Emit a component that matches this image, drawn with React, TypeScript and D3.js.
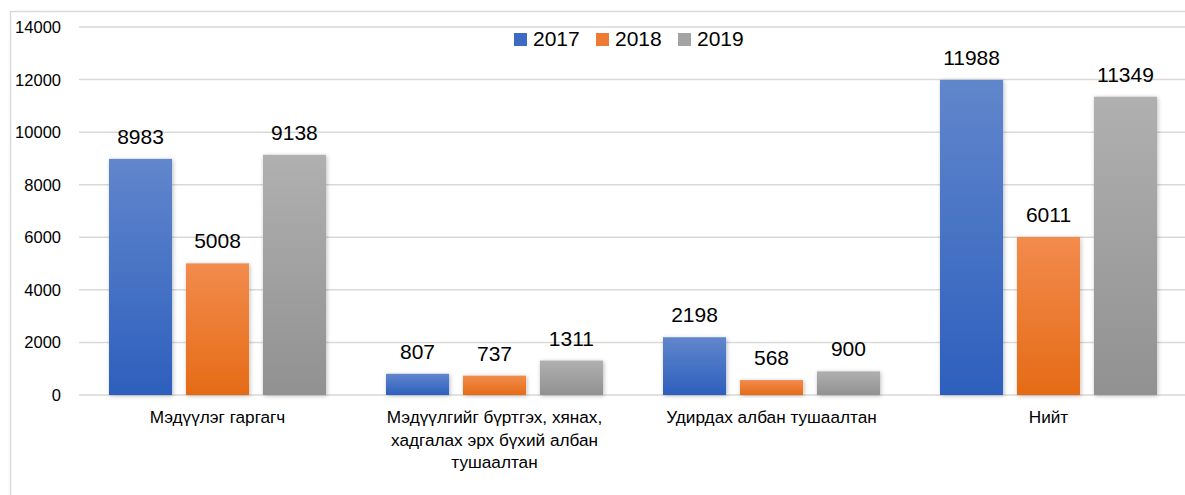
import { useMemo } from "react";
import * as d3 from "d3";

const categories = [
  ["Мэдүүлэг гаргагч"],
  ["Мэдүүлгийг бүртгэх, хянах,", "хадгалах эрх бүхий албан", "тушаалтан"],
  ["Удирдах албан тушаалтан"],
  ["Нийт"],
];
const years = ["2017", "2018", "2019"];
const values2017 = [8983, 807, 2198, 11988];
const values2018 = [5008, 737, 568, 6011];
const values2019 = [9138, 1311, 900, 11349];
const yTicks = [0, 2000, 4000, 6000, 8000, 10000, 12000, 14000];

const series = [values2017, values2018, values2019];
const gradients = [
  ["#6186cc", "#2d5fbd"],
  ["#f28b4d", "#e56b16"],
  ["#b0b0b0", "#919191"],
];
const legendColors = ["#3d6bc4", "#ee7a33", "#a3a3a3"];

const W = 1185;
const H = 495;
const margin = { top: 27, right: -2, bottom: 100, left: 79 };
const FONT = "'Liberation Sans', Arial, sans-serif";

export default function App() {
  const x0 = useMemo(
    () =>
      d3
        .scaleBand<number>()
        .domain(categories.map((_, i) => i))
        .range([margin.left, W - margin.right]),
    [],
  );
  const x1 = useMemo(
    () =>
      d3
        .scaleBand<number>()
        .domain(years.map((_, i) => i))
        .range([30, x0.bandwidth() - 30])
        .paddingInner(0.18),
    [x0],
  );
  const y = useMemo(
    () => d3.scaleLinear().domain([0, 14000]).range([H - margin.bottom, margin.top]),
    [],
  );

  return (
    <div style={{ position: "fixed", left: 0, top: 0 }}>
      <svg width={W} height={H} style={{ display: "block", fontFamily: FONT }}>
        <defs>
          {gradients.map(([a, b], i) => (
            <linearGradient key={i} id={`g${i}`} x1="0" y1="0" x2="0" y2="1">
              <stop offset="0%" stopColor={a} />
              <stop offset="100%" stopColor={b} />
            </linearGradient>
          ))}
          <filter id="shadow" x="-20%" y="-20%" width="140%" height="140%">
            <feDropShadow dx="1" dy="1" stdDeviation="2" floodColor="#000" floodOpacity="0.25" />
          </filter>
        </defs>
        <rect x={0} y={0} width={W} height={H} fill="#fff" />
        <rect x={10.5} y={11.5} width={W + 20} height={H + 20} fill="none" stroke="#d9d9d9" strokeWidth={1.5} />

        {/* grid + y labels */}
        {yTicks.map((t) => (
          <g key={t}>
            <line
              x1={margin.left}
              x2={W}
              y1={y(t)}
              y2={y(t)}
              stroke="#d9d9d9"
              strokeWidth={1.5}
            />
            <text
              x={61}
              y={y(t)}
              textAnchor="end"
              dominantBaseline="central"
              fontSize={16.5}
              fill="#000"
            >
              {t}
            </text>
          </g>
        ))}

        {/* bars */}
        {categories.map((_, ci) => (
          <g key={ci} transform={`translate(${x0(ci)},0)`}>
            {series.map((vals, si) => {
              const v = vals[ci];
              const bx = x1(si) ?? 0;
              return (
                <g key={si}>
                  <rect
                    x={bx}
                    y={y(v)}
                    width={x1.bandwidth()}
                    height={y(0) - y(v)}
                    fill={`url(#g${si})`}
                    filter="url(#shadow)"
                  />
                  <text
                    x={bx + x1.bandwidth() / 2}
                    y={y(v) - 15}
                    textAnchor="middle"
                    fontSize={21}
                    fill="#000"
                  >
                    {v}
                  </text>
                </g>
              );
            })}
          </g>
        ))}

        {/* category labels */}
        {categories.map((lines, ci) => (
          <text
            key={ci}
            x={(x0(ci) ?? 0) + x0.bandwidth() / 2}
            y={423}
            textAnchor="middle"
            fontSize={17.2}
            fill="#000"
          >
            {lines.map((l, li) => (
              <tspan key={li} x={(x0(ci) ?? 0) + x0.bandwidth() / 2} dy={li === 0 ? 0 : 22.5}>
                {l}
              </tspan>
            ))}
          </text>
        ))}

        {/* legend */}
        {years.map((yr, i) => {
          const lx = 514 + i * 82;
          return (
            <g key={yr}>
              <rect x={lx} y={33} width={13} height={13} fill={legendColors[i]} />
              <text x={lx + 19} y={46} fontSize={21} fill="#000">
                {yr}
              </text>
            </g>
          );
        })}
      </svg>
    </div>
  );
}
